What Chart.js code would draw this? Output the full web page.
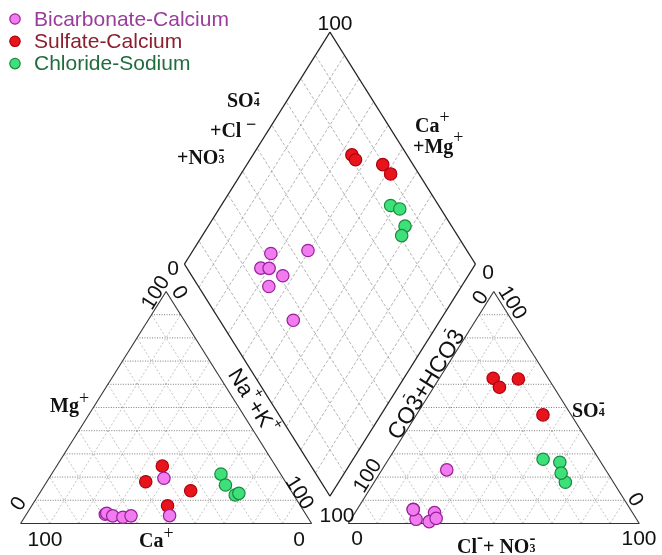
<!DOCTYPE html>
<html>
<head>
<meta charset="utf-8">
<script src="https://cdn.jsdelivr.net/npm/chart.js@4.4.0/dist/chart.umd.min.js"></script>
<style>
  html, body { margin: 0; padding: 0; background: #fff; }
  #piper { display: block; }
</style>
</head>
<body>
<canvas id="piper" width="662" height="555"></canvas>
<script>
const groupNames = ["Bicarbonate-Calcium", "Sulfate-Calcium", "Chloride-Sodium"];

// cations in % meq: Ca, Mg (Na+K is the rest)
// anions in % meq: SO4, Cl+NO3 (CO3+HCO3 is the rest)
const bicarbCa = [68.9, 68.2, 66.7, 63.5, 60.4, 41.0, 47.1];
const bicarbMg = [4.0, 4.4, 3.3, 2.7, 3.3, 19.5, 3.4];
const bicarbSO4 = [6.1, 4.7, 0.8, 1.8, 2.2, 23.1, 6.0];
const bicarbCl = [19.3, 27.3, 27.4, 22.4, 29.1, 22.3, 19.3];

const sulfateCa = [48.0, 38.9, 45.7, 34.5];
const sulfateMg = [18.0, 24.8, 7.6, 14.1];
const sulfateSO4 = [62.6, 58.7, 62.3, 46.8];
const sulfateCl = [18.5, 22.6, 27.3, 43.5];

const chlorideCa = [20.5, 21.3, 20.1, 18.5];
const chlorideMg = [21.3, 16.6, 12.3, 13.0];
const chlorideSO4 = [17.8, 26.4, 21.7, 27.7];
const chlorideCl = [65.7, 59.5, 62.3, 53.1];

const tickLow = "0";
const tickHigh = "100";

// diagram geometry, in percent units
const H = 86.6;
const GAP = 12.6;
const DIAMOND_Y = 10.2;
const TILT = 58 * Math.PI / 180;

function cationXY(ca, mg) {
    const na = 100 - ca - mg;
    return { x: na + mg / 2, y: mg * H / 100 };
}

function anionXY(so4, cl) {
    return { x: 100 + GAP + cl + so4 / 2, y: so4 * H / 100 };
}

function diamondXY(ca, mg, so4, cl) {
    const c = ca + mg;
    const a = so4 + cl;
    return { x: 100 + GAP / 2 + (a - c) / 2, y: DIAMOND_Y + (a + c) * H / 100 };
}

function buildPoints(ca, mg, so4, cl) {
    const pts = [];
    for (let i = 0; i < ca.length; i++) pts.push(cationXY(ca[i], mg[i]));
    for (let i = 0; i < ca.length; i++) pts.push(diamondXY(ca[i], mg[i], so4[i], cl[i]));
    for (let i = 0; i < ca.length; i++) pts.push(anionXY(so4[i], cl[i]));
    return pts;
}

function drawRich(ctx, parts, x, y, opts) {
    const family = opts.family;
    const weight = opts.weight || "normal";
    const base = opts.size;
    let total = 0;
    const placed = [];
    let prev = null;
    parts.forEach(p => {
        const size = p.size || base;
        ctx.font = `${p.weight || weight} ${size}px ${family}`;
        const w = ctx.measureText(p.t).width;
        let px;
        if (p.over && prev) {
            ctx.font = `${prev.weight} ${prev.size}px ${family}`;
            const lw = ctx.measureText(prev.t.slice(-1)).width;
            px = prev.x + prev.w - lw / 2 - w / 2;
        } else {
            px = total;
            total += w;
        }
        const item = { t: p.t, x: px, w: w, size: size, weight: p.weight || weight, dy: p.dy || 0 };
        placed.push(item);
        if (!p.over) prev = item;
    });
    ctx.save();
    ctx.translate(x, y);
    if (opts.angle) ctx.rotate(opts.angle);
    ctx.fillStyle = opts.color || "#111";
    ctx.textBaseline = opts.baseline || "alphabetic";
    ctx.textAlign = "left";
    const start = opts.align === "center" ? -total / 2 : 0;
    placed.forEach(it => {
        ctx.font = `${it.weight} ${it.size}px ${family}`;
        ctx.fillText(it.t, start + it.x, it.dy);
    });
    ctx.restore();
}

function drawTick(ctx, text, x, y, angle) {
    ctx.save();
    ctx.translate(x, y);
    if (angle) ctx.rotate(angle);
    ctx.font = "21px 'Liberation Sans', Arial, sans-serif";
    ctx.fillStyle = "#111";
    ctx.textAlign = "center";
    ctx.textBaseline = "middle";
    ctx.fillText(text, 0, 0);
    ctx.restore();
}

const piperFrame = {
    id: "piperFrame",
    beforeDatasetsDraw(chart) {
        const ctx = chart.ctx;
        const sx = chart.scales.x;
        const sy = chart.scales.y;

        function seg(p1, p2, color, width, dash) {
            ctx.save();
            ctx.strokeStyle = color;
            ctx.lineWidth = width;
            ctx.setLineDash(dash || []);
            ctx.beginPath();
            ctx.moveTo(sx.getPixelForValue(p1[0]), sy.getPixelForValue(p1[1]));
            ctx.lineTo(sx.getPixelForValue(p2[0]), sy.getPixelForValue(p2[1]));
            ctx.stroke();
            ctx.restore();
        }

        function triangle(ox) {
            for (let k = 1; k < 10; k++) {
                const t = k * 10;
                seg([ox + t, 0], [ox + t + (100 - t) / 2, (100 - t) * H / 100], "#b4b4b4", 0.8, [2, 2]);
                seg([ox + 100 - t, 0], [ox + (100 - t) / 2, (100 - t) * H / 100], "#b4b4b4", 0.8, [2, 2]);
            }
            for (let k = 1; k < 10; k++) {
                const t = k * 10;
                seg([ox + t / 2, t * H / 100], [ox + 100 - t / 2, t * H / 100], "#5a5a5a", 0.8, [1, 1.5]);
            }
            seg([ox, 0], [ox + 100, 0], "#333", 1.1);
            seg([ox, 0], [ox + 50, H], "#333", 1.1);
            seg([ox + 100, 0], [ox + 50, H], "#333", 1.1);
        }

        triangle(0);
        triangle(100 + GAP);

        const b = [100 + GAP / 2, DIAMOND_Y];
        const l = [b[0] - 50, b[1] + H];
        const r = [b[0] + 50, b[1] + H];
        const t = [b[0], b[1] + 2 * H];
        for (let k = 1; k < 10; k++) {
            const f = k / 10;
            const s1 = [b[0] - 50 * f, b[1] + H * f];
            seg(s1, [s1[0] + 50, s1[1] + H], "#a0a0a0", 0.8, [3, 2]);
            const s2 = [b[0] + 50 * f, b[1] + H * f];
            seg(s2, [s2[0] - 50, s2[1] + H], "#a0a0a0", 0.8, [3, 2]);
        }
        seg(b, l, "#222", 1.2);
        seg(l, t, "#222", 1.2);
        seg(t, r, "#222", 1.2);
        seg(r, b, "#222", 1.2);
    },
    afterDatasetsDraw(chart) {
        const ctx = chart.ctx;
        const serif = "'Liberation Serif', 'Times New Roman', serif";
        const sans = "'Liberation Sans', Arial, sans-serif";
        const bold = { family: serif, weight: "bold", size: 20 };

        // ticks
        drawTick(ctx, tickHigh, 335, 24);
        drawTick(ctx, tickLow, 173, 269);
        drawTick(ctx, tickLow, 488, 273);
        drawTick(ctx, tickHigh, 45, 540);
        drawTick(ctx, tickLow, 299, 540);
        drawTick(ctx, tickLow, 19, 504, -TILT);
        drawTick(ctx, tickHigh, 156, 293, -TILT);
        drawTick(ctx, tickLow, 179, 293, TILT);
        drawTick(ctx, tickHigh, 299, 493, TILT);
        drawTick(ctx, tickHigh, 337, 516);
        drawTick(ctx, tickLow, 357, 539);
        drawTick(ctx, tickHigh, 639, 539);
        drawTick(ctx, tickHigh, 368, 476, -TILT);
        drawTick(ctx, tickLow, 481, 298, -TILT);
        drawTick(ctx, tickHigh, 512, 303, TILT);
        drawTick(ctx, tickLow, 635, 500, TILT);

        // axis titles
        const so4 = [{ t: "SO" }, { t: "4", size: 12, dy: -1 }, { t: "-", size: 18, dy: -9, over: true }];
        drawRich(ctx, so4, 227, 107, bold);
        drawRich(ctx, [{ t: "+Cl" }, { t: " −", size: 18, dy: -7 }], 210, 137, bold);
        drawRich(ctx, [{ t: "+NO" }, { t: "3", size: 12, dy: -1 }, { t: "-", size: 18, dy: -9, over: true }], 177, 164, bold);
        drawRich(ctx, [{ t: "Ca" }, { t: "+", size: 18, dy: -9, weight: "normal" }], 415, 132, bold);
        drawRich(ctx, [{ t: "+Mg" }, { t: "+", size: 18, dy: -10, weight: "normal" }], 413, 153, bold);
        drawRich(ctx, [{ t: "Mg" }, { t: "+", size: 18, dy: -8, weight: "normal" }], 50, 412, bold);
        drawRich(ctx, [{ t: "Ca" }, { t: "+", size: 18, dy: -8, weight: "normal" }], 139, 547, bold);
        drawRich(ctx, so4, 572, 417, bold);
        drawRich(ctx, [{ t: "Cl" }, { t: "-", size: 18, dy: -10 }, { t: "+ NO" }, { t: "3", size: 12, dy: -1 }, { t: "-", size: 18, dy: -9, over: true }], 457, 553, bold);

        drawRich(ctx, [{ t: "Na" }, { t: "+", size: 15, dy: -10 }, { t: "+K" }, { t: "+", size: 15, dy: -10 }],
            252, 402, { family: sans, size: 22, angle: TILT, align: "center", baseline: "middle" });
        drawRich(ctx, [{ t: "CO3" }, { t: "-", size: 15, dy: -14, over: true }, { t: "+HCO3" }, { t: "-", size: 15, dy: -14, over: true }],
            427, 385, { family: sans, size: 23, angle: -TILT, align: "center", baseline: "middle" });

        // legend
        const textColors = ["#9a3c9c", "#8b1f2e", "#1e6e3e"];
        chart.data.datasets.forEach((ds, i) => {
            const cy = 19 + i * 22.3;
            ctx.save();
            ctx.beginPath();
            ctx.arc(15, cy, 5.2, 0, Math.PI * 2);
            ctx.fillStyle = ds.pointBackgroundColor;
            ctx.fill();
            ctx.lineWidth = 1.2;
            ctx.strokeStyle = ds.pointBorderColor;
            ctx.stroke();
            ctx.font = "21px 'Liberation Sans', Arial, sans-serif";
            ctx.fillStyle = textColors[i];
            ctx.textBaseline = "middle";
            ctx.fillText(ds.label, 34, cy + 1);
            ctx.restore();
        });
    }
};

document.addEventListener("DOMContentLoaded", function () {
    new Chart("piper", {
        type: "scatter",
        data: {
            datasets: [{
                label: groupNames[0],
                data: buildPoints(bicarbCa, bicarbMg, bicarbSO4, bicarbCl),
                pointBackgroundColor: "#f07cf0",
                pointBorderColor: "#9a1f9a",
                pointBorderWidth: 1.2,
                pointRadius: 6.2,
                clip: false
            }, {
                label: groupNames[1],
                data: buildPoints(sulfateCa, sulfateMg, sulfateSO4, sulfateCl),
                pointBackgroundColor: "#e8141c",
                pointBorderColor: "#b00010",
                pointBorderWidth: 1.2,
                pointRadius: 6.2,
                clip: false
            }, {
                label: groupNames[2],
                data: buildPoints(chlorideCa, chlorideMg, chlorideSO4, chlorideCl),
                pointBackgroundColor: "#3ee07a",
                pointBorderColor: "#1b8a40",
                pointBorderWidth: 1.2,
                pointRadius: 6.2,
                clip: false
            }]
        },
        options: {
            responsive: false,
            animation: false,
            events: [],
            layout: { padding: 0, autoPadding: false },
            plugins: {
                legend: { display: false },
                tooltip: { enabled: false }
            },
            scales: {
                x: { type: "linear", min: -7.08, max: 220.41, display: false },
                y: { type: "linear", min: -11.76, max: 195.41, display: false }
            }
        },
        plugins: [piperFrame]
    });
});
</script>
</body>
</html>
